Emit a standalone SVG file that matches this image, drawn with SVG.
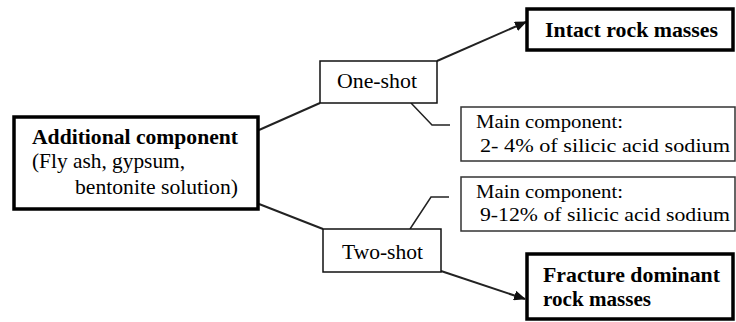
<svg xmlns="http://www.w3.org/2000/svg" width="736" height="322" viewBox="0 0 736 322">
<defs>
<marker id="arr" viewBox="0 0 12 10" refX="11" refY="5" markerWidth="12" markerHeight="10" markerUnits="userSpaceOnUse" orient="auto">
<path d="M0,0 L12,5 L0,10 Z" fill="#111"/>
</marker>
</defs>
<rect width="736" height="322" fill="#fff"/>
<g id="connectors" fill="none" stroke="#222" stroke-width="2">
<line x1="259" y1="130" x2="320" y2="103"/>
<line x1="259" y1="204" x2="323" y2="229"/>
<line x1="437" y1="61" x2="526" y2="22" marker-end="url(#arr)"/>
<line x1="441" y1="271" x2="525" y2="299" marker-end="url(#arr)"/>
<polyline stroke-width="1.5" points="411,103 432,125 450,125"/>
<polyline stroke-width="1.5" points="410,229 431,197 449,197"/>
</g>
<g id="additional">
<rect fill="#fff" stroke="#000" stroke-width="3.5" x="14" y="117" width="244" height="92"/>
<text font-family="Liberation Serif" style="font-family:'Liberation Serif',serif" font-weight="bold" x="32" y="144" font-size="21" textLength="206" lengthAdjust="spacingAndGlyphs">Additional component</text>
<text font-family="Liberation Serif" style="font-family:'Liberation Serif',serif" x="32" y="168" font-size="21" textLength="153" lengthAdjust="spacingAndGlyphs">(Fly ash, gypsum,</text>
<text font-family="Liberation Serif" style="font-family:'Liberation Serif',serif" x="75" y="194" font-size="21" textLength="163" lengthAdjust="spacingAndGlyphs">bentonite solution)</text>
</g>
<g id="oneshot">
<rect fill="#fff" stroke="#111" stroke-width="1.5" x="320" y="61" width="117" height="42"/>
<text font-family="Liberation Serif" style="font-family:'Liberation Serif',serif" x="337" y="88" font-size="22" textLength="80" lengthAdjust="spacingAndGlyphs">One-shot</text>
</g>
<g id="twoshot">
<rect fill="#fff" stroke="#111" stroke-width="1.5" x="323" y="229" width="118" height="43"/>
<text font-family="Liberation Serif" style="font-family:'Liberation Serif',serif" x="342" y="259" font-size="22" textLength="81" lengthAdjust="spacingAndGlyphs">Two-shot</text>
</g>
<g id="intact">
<rect fill="#fff" stroke="#000" stroke-width="3.5" x="527" y="9" width="206" height="41"/>
<text font-family="Liberation Serif" style="font-family:'Liberation Serif',serif" font-weight="bold" x="545" y="37" font-size="22" textLength="173" lengthAdjust="spacingAndGlyphs">Intact rock masses</text>
</g>
<g id="fracture">
<rect fill="#fff" stroke="#000" stroke-width="3.5" x="527" y="254" width="206" height="65"/>
<text font-family="Liberation Serif" style="font-family:'Liberation Serif',serif" font-weight="bold" x="543" y="282" font-size="21" textLength="177" lengthAdjust="spacingAndGlyphs">Fracture dominant</text>
<text font-family="Liberation Serif" style="font-family:'Liberation Serif',serif" font-weight="bold" x="543" y="306" font-size="21" textLength="108" lengthAdjust="spacingAndGlyphs">rock masses</text>
</g>
<g id="main1">
<rect fill="#fff" stroke="#333" stroke-width="1.5" x="461" y="107" width="274" height="54"/>
<text font-family="Liberation Serif" style="font-family:'Liberation Serif',serif" x="476" y="128" font-size="19" textLength="147" lengthAdjust="spacingAndGlyphs">Main component:</text>
<text font-family="Liberation Serif" style="font-family:'Liberation Serif',serif" x="480" y="152" font-size="19" textLength="250" lengthAdjust="spacingAndGlyphs">2- 4% of silicic acid sodium</text>
</g>
<g id="main2">
<rect fill="#fff" stroke="#333" stroke-width="1.5" x="461" y="177" width="274" height="54"/>
<text font-family="Liberation Serif" style="font-family:'Liberation Serif',serif" x="476" y="198" font-size="19" textLength="147" lengthAdjust="spacingAndGlyphs">Main component:</text>
<text font-family="Liberation Serif" style="font-family:'Liberation Serif',serif" x="480" y="221" font-size="19" textLength="250" lengthAdjust="spacingAndGlyphs">9-12% of silicic acid sodium</text>
</g>
</svg>
